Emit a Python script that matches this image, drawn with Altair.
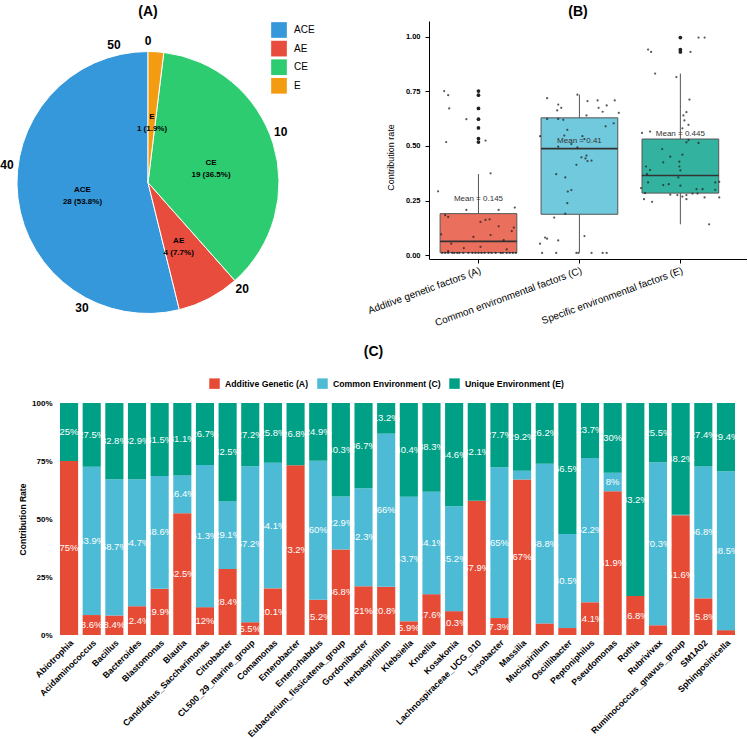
import altair as alt
import pandas as pd

FONT = "Liberation Sans"

# ---------------- Panel A data ----------------
pie_types = ["ACE", "AE", "CE", "E"]
pie_counts = [28, 4, 19, 1]
pie_order = [3, 2, 1, 0]
pie_colors = ["#3498DB", "#E74C3C", "#2ECC71", "#F39C12"]
pie_ticks = [0, 10, 20, 30, 40, 50]

# ---------------- Panel B data ----------------
b_groups = ["Additive genetic factors (A)", "Common environmental factors (C)",
            "Specific environmental factors (E)"]
b_colors = ["#E64B35", "#4DBBD5", "#00A087"]
b_q1 = [0.011, 0.187, 0.284]
b_median = [0.063, 0.488, 0.365]
b_q3 = [0.190, 0.629, 0.532]
b_lower = [0.011, 0.012, 0.141]
b_upper = [0.371, 0.735, 0.832]
b_mean = [0.145, 0.41, 0.445]

a_off = [-0.34, -0.30, -0.29, -0.12, -0.32, 0.07, -0.40, 0.12, -0.12, 0.20, 0.36, -0.33, -0.30,
         0.02, 0.07, 0.11, -0.05, 0.12, 0.20, 0.33, 0.35, -0.27, -0.145, 0.02, 0.25, 0.28, -0.37,
         -0.30, -0.36, -0.33, -0.30, -0.26, -0.24, -0.21, -0.19, -0.15, -0.10, -0.06, -0.03, 0.0,
         0.03, 0.06, 0.10, 0.13, 0.17, 0.22, 0.24, 0.28, 0.31, 0.34, 0.37]
a_val = [0.752, 0.733, 0.672, 0.623, 0.518, 0.525, 0.292, 0.375, 0.207, 0.207, 0.218, 0.183, 0.175,
         0.152, 0.161, 0.164, 0.083, 0.092, 0.132, 0.110, 0.126, 0.052, 0.032, 0.038, 0.068, 0.026,
         0.095, 0.018, 0.01, 0.01, 0.01, 0.01, 0.01, 0.01, 0.01, 0.01, 0.01, 0.01, 0.01, 0.01,
         0.01, 0.01, 0.01, 0.01, 0.01, 0.01, 0.01, 0.01, 0.01, 0.01, 0.01]
c_off = [-0.32, -0.21, -0.22, -0.18, -0.02, 0.08, 0.18, 0.19, 0.23, 0.27, 0.35, 0.39, -0.32, -0.21,
         -0.16, 0.07, 0.34, 0.26, -0.39, -0.15, -0.12, -0.08, -0.02, 0.03, 0.05, 0.02, 0.07, 0.06,
         0.12, 0.08, -0.03, -0.21, -0.23, -0.14, -0.115, -0.08, -0.12, -0.14, -0.25, -0.34, -0.32,
         -0.39, -0.21, 0.05, -0.37, -0.23, -0.03, -0.01, 0.12, 0.23, 0.27]
c_val = [0.719, 0.690, 0.663, 0.675, 0.735, 0.706, 0.709, 0.675, 0.657, 0.686, 0.709, 0.652, 0.624,
         0.624, 0.620, 0.640, 0.604, 0.590, 0.545, 0.548, 0.574, 0.509, 0.494, 0.545, 0.532, 0.448,
         0.456, 0.443, 0.433, 0.431, 0.414, 0.497, 0.371, 0.356, 0.291, 0.298, 0.238, 0.190, 0.172,
         0.080, 0.075, 0.052, 0.067, 0.087, 0.01, 0.01, 0.01, 0.01, 0.01, 0.01, 0.01]
e_off = [0.18, 0.24, -0.32, -0.29, 0.0, 0.10, -0.25, -0.04, 0.09, 0.03, 0.06, 0.04, 0.08, 0.02,
         -0.38, -0.30, 0.06, 0.08, 0.18, -0.18, -0.10, 0.02, -0.17, -0.01, -0.34, -0.01, -0.30, 0.0,
         -0.33, -0.02, -0.32, -0.17, -0.115, 0.0, 0.345, 0.385, 0.16, 0.22, 0.345, -0.39, -0.35,
         -0.10, -0.03, 0.02, 0.06, 0.12, 0.17, 0.24, 0.385, -0.36, -0.28, 0.06, 0.285]
e_val = [0.997, 0.997, 0.942, 0.931, 0.942, 0.931, 0.832, 0.816, 0.713, 0.640, 0.655, 0.617, 0.597,
         0.581, 0.560, 0.566, 0.517, 0.528, 0.514, 0.486, 0.451, 0.460, 0.425, 0.428, 0.406, 0.406,
         0.390, 0.388, 0.371, 0.356, 0.333, 0.321, 0.325, 0.318, 0.333, 0.336, 0.302, 0.302, 0.299,
         0.307, 0.284, 0.277, 0.275, 0.268, 0.275, 0.282, 0.282, 0.264, 0.264, 0.256, 0.244, 0.256,
         0.141]
out_group = [1, 1, 1, 1, 1, 1, 1, 3, 3, 3]
out_val = [0.752, 0.733, 0.672, 0.623, 0.583, 0.534, 0.518, 0.997, 0.942, 0.931]

# ---------------- Panel C data ----------------
genera = ["Abiotrophia", "Acidaminococcus", "Bacillus", "Bacteroides", "Blastomonas", "Blautia",
          "Candidatus_Saccharimonas", "Citrobacter", "CL500_29_marine_group", "Comamonas",
          "Enterobacter", "Enterorhabdus", "Eubacterium_fissicatena_group", "Gordonibacter",
          "Herbaspirillum", "Klebsiella", "Knoellia", "Kosakonia", "Lachnospiraceae_UCG_010",
          "Lysobacter", "Massilia", "Mucispirillum", "Oscillibacter", "Peptoniphilus",
          "Pseudomonas", "Rothia", "Rubrivivax", "Ruminococcus_gnavus_group", "SM1A02",
          "Sphingosinicella"]
gen_A = [75, 8.6, 8.4, 12.4, 19.9, 52.5, 12, 28.4, 5.5, 20.1, 73.2, 15.2, 36.8, 21, 20.8, 5.9, 17.6,
         10.3, 57.9, 7.3, 67, 5.0, 3.0, 14.1, 61.9, 16.8, 4.2, 51.6, 15.8, 2.1]
gen_C = [0, 63.9, 58.7, 54.7, 48.6, 16.4, 61.3, 29.1, 67.2, 54.1, 0, 60, 22.9, 42.3, 66, 53.7, 44.1,
         45.2, 0, 65, 3.8, 68.8, 40.5, 62.2, 8, 0, 70.3, 0.2, 56.8, 68.5]
gen_E = [25, 27.5, 32.8, 32.9, 31.5, 31.1, 26.7, 42.5, 27.2, 25.8, 26.8, 24.9, 40.3, 36.7, 13.2, 40.4,
         38.3, 44.6, 42.1, 27.7, 29.2, 26.2, 56.5, 23.7, 30, 83.2, 25.5, 48.2, 27.4, 29.4]
comp_names = ["Additive Genetic (A)", "Common Environment (C)", "Unique Environment (E)"]
comp_colors = ["#E64B35", "#4DBBD5", "#00A087"]

# =============== Panel A ===============
total = sum(pie_counts)
pie_df = pd.DataFrame({"type": pie_types, "count": pie_counts, "ord": pie_order})
pie_df["label"] = [f"{t}\n{c} ({c / total * 100:.1f}%)" for t, c in zip(pie_types, pie_counts)]
tick_df = pd.DataFrame({"t": pie_ticks})

theta_scale = alt.Scale(domain=[0, total])
pie_base = alt.Chart(pie_df).encode(
    theta=alt.Theta("count:Q", stack=True, scale=theta_scale),
    order=alt.Order("ord:Q", sort="ascending"),
)
arcs = pie_base.mark_arc(outerRadius=131, stroke="white", strokeWidth=1).encode(
    color=alt.Color(
        "type:N",
        scale=alt.Scale(domain=pie_types, range=pie_colors),
        legend=alt.Legend(title=None, orient="none", legendX=214, legendY=1,
                          symbolType="square", symbolSize=246, symbolStrokeWidth=0,
                          labelFontSize=10, labelOffset=7, rowPadding=2.6, padding=0,
                          labelColor="black"),
    )
)
pie_labels = pie_base.mark_text(radius=66, fontSize=8, fontWeight="bold", lineBreak="\n",
                                lineHeight=12, color="black").encode(text="label:N")
pie_ticks_layer = alt.Chart(tick_df).mark_text(radius=142, fontSize=12, fontWeight="bold",
                                               color="black").encode(
    theta=alt.Theta("t:Q", scale=theta_scale),
    text=alt.Text("t:Q"),
)
panel_a = alt.layer(arcs, pie_labels, pie_ticks_layer).properties(
    width=182, height=323,
    title=alt.TitleParams("(A)", fontSize=14, fontWeight="bold", offset=2, anchor="middle"),
)

# =============== Panel B ===============
box_df = pd.DataFrame({"group": b_groups, "xpos": [1, 2, 3], "q1": b_q1, "median": b_median,
                       "q3": b_q3, "lower": b_lower, "upper": b_upper, "mean": b_mean})
box_df["label"] = [f"Mean = {m:g}" for m in b_mean]

pts_rows = []
for gi, (offs, vals) in enumerate([(a_off, a_val), (c_off, c_val), (e_off, e_val)], start=1):
    for o, v in zip(offs, vals):
        pts_rows.append({"xpos": gi, "off": o, "val": v})
pts_df = pd.DataFrame(pts_rows)
out_df = pd.DataFrame({"xpos": out_group, "val": out_val})

label_expr = (f"datum.value == 1 ? '{b_groups[0]}' : datum.value == 2 ? '{b_groups[1]}' : "
              f"'{b_groups[2]}'")
xs = alt.Scale(domain=[0.51, 3.66], nice=False, zero=False)
xaxis = alt.Axis(values=[1, 2, 3], labelExpr=label_expr, title=None, grid=False, labelAngle=340,
                 labelAlign="right", labelBaseline="top", labelFontSize=10, tickSize=4,
                 labelPadding=2, labelOverlap=False, labelBound=False,
                 domainColor="black", tickColor="black", labelColor="black")
ys = alt.Scale(domain=[-0.018, 1.073], nice=False, zero=False)
yaxis = alt.Axis(values=[0, 0.25, 0.5, 0.75, 1.0], format=".2f", title="Contribution rate",
                 grid=False, labelFontSize=7.5, labelFontWeight="bold", tickSize=4,
                 labelPadding=5, domainColor="black", tickColor="black", labelColor="black",
                 titleFontSize=9, titleFontWeight="normal", titleColor="black", titleY=136,
                 titlePadding=10)


def bx(f):
    return alt.X(f, type="quantitative", scale=xs, axis=xaxis)


def by(f):
    return alt.Y(f, type="quantitative", scale=ys, axis=yaxis)


BOX_HALF = 0.38
box_base = alt.Chart(box_df).transform_calculate(
    x_lo=f"datum.xpos - {BOX_HALF}", x_hi=f"datum.xpos + {BOX_HALF}",
    laby="datum.mean + 0.112",
)
wh_lo = box_base.mark_rule(color="#555555", strokeWidth=1).encode(
    x=bx("xpos"), y=by("lower"), y2="q1")
wh_hi = box_base.mark_rule(color="#555555", strokeWidth=1).encode(
    x=bx("xpos"), y=by("q3"), y2="upper")
boxes = box_base.mark_rect(stroke="#555555", strokeWidth=1, fillOpacity=0.8).encode(
    x=bx("x_lo"), x2="x_hi", y=by("q1"), y2="q3",
    color=alt.Color("group:N", scale=alt.Scale(domain=b_groups, range=b_colors), legend=None),
)
medians = box_base.mark_rule(color="#333333", strokeWidth=1.6).encode(
    x=bx("x_lo"), x2="x_hi", y=by("median"))
outliers = alt.Chart(out_df).mark_circle(size=14, color="#222222", opacity=1).encode(
    x=bx("xpos"), y=by("val"))
jitter = alt.Chart(pts_df).transform_calculate(xj="datum.xpos + datum.off").mark_circle(
    size=5, color="#222222", opacity=0.75).encode(x=bx("xj"), y=by("val"))
mean_txt = box_base.mark_text(fontSize=8, color="#333333", baseline="middle").encode(
    x=bx("xpos"), y=by("laby"), text="label:N")

panel_b = alt.layer(wh_lo, wh_hi, boxes, medians, outliers, jitter, mean_txt).properties(
    width=318, height=238,
    title=alt.TitleParams("(B)", fontSize=14, fontWeight="bold", offset=2, anchor="middle",
                          dx=-10),
)

# =============== Panel C ===============
rows = []
for g, a, c, e in zip(genera, gen_A, gen_C, gen_E):
    for k, (name, v) in enumerate(zip(comp_names, [a, c, e])):
        rows.append({"genus": g, "comp": name, "v": v, "ord": k})
c_df = pd.DataFrame(rows)

c_base = alt.Chart(c_df).transform_joinaggregate(
    total="sum(v)", groupby=["genus"]
).transform_calculate(
    p="datum.v / datum.total"
).transform_stack(
    stack="p", groupby=["genus"], as_=["p0", "p1"], sort=[alt.SortField("ord", order="ascending")]
).transform_calculate(
    mid="(datum.p0 + datum.p1) / 2", lab="format(datum.v, '.1~f') + '%'"
)

cx = alt.X("genus:N", sort=genera,
           scale=alt.Scale(paddingInner=0.2, paddingOuter=0.132),
           axis=alt.Axis(title=None, labelAngle=315, labelAlign="right", labelBaseline="top",
                         labelFontSize=8.8, labelFontWeight="bold", labelColor="black",
                         domain=False, ticks=False, labelPadding=3, labelLimit=300,
                         labelOverlap=False))
cys = alt.Scale(domain=[0, 1], nice=False)
cyaxis = alt.Axis(values=[0, 0.25, 0.5, 0.75, 1.0], format=".0%", title="Contribution Rate",
                  domain=False, ticks=False, grid=False, labelFontSize=8, labelFontWeight="bold",
                  labelColor="black", labelPadding=5, titleFontSize=8.5, titleFontWeight="bold",
                  titleColor="black", titlePadding=4)

bars = c_base.mark_bar().encode(
    x=cx,
    y=alt.Y("p0:Q", scale=cys, axis=cyaxis),
    y2="p1:Q",
    color=alt.Color("comp:N", scale=alt.Scale(domain=comp_names, range=comp_colors),
                    legend=alt.Legend(title=None, orient="none", direction="horizontal",
                                      legendX=152, legendY=-25, symbolType="square",
                                      symbolSize=110, symbolStrokeWidth=0, labelFontSize=8.7,
                                      labelFontWeight="bold", labelColor="black", labelOffset=5,
                                      columnPadding=8, padding=0)),
)
bar_txt = c_base.transform_filter("datum.v > 5").mark_text(
    color="white", fontSize=9.5, baseline="middle").encode(
    x=cx, y=alt.Y("mid:Q", scale=cys, axis=cyaxis), text="lab:N")

panel_c = alt.layer(bars, bar_txt).properties(
    width=681, height=232,
    title=alt.TitleParams("(C)", fontSize=14, fontWeight="bold", offset=19, anchor="middle",
                          dx=-24),
)

top = alt.hconcat(panel_a, panel_b, spacing=190, bounds="flush").resolve_scale(
    color="independent")
chart = alt.vconcat(top, panel_c, spacing=382, bounds="flush").resolve_scale(
    color="independent"
).properties(
    padding={"left": 0, "top": 5, "right": 0, "bottom": 0}
).configure(font=FONT).configure_view(stroke=None)

chart.save("out.html", embed_options={"renderer": "svg", "actions": False})
